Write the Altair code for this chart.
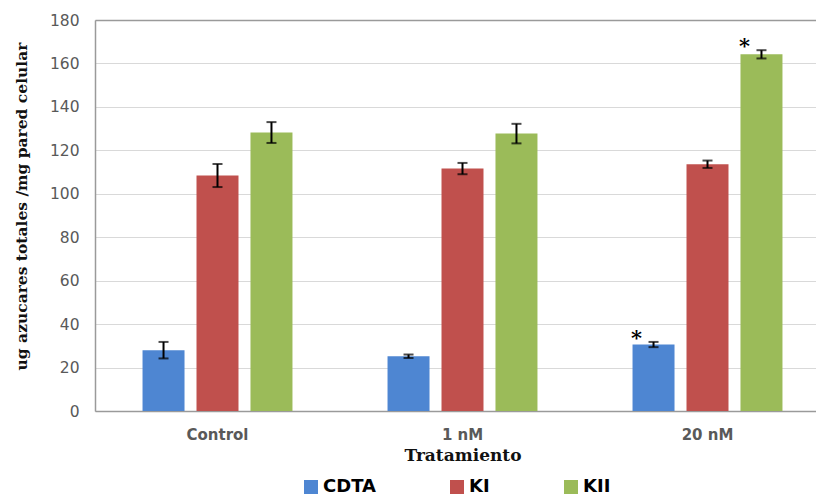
import altair as alt
import pandas as pd

# Treatments (x categories) and series
treatments = ["Control", "1 nM", "20 nM"]
series = ["CDTA", "KI", "KII"]

# Mean values per series, in treatment order
cdta_mean = [28.0, 25.2, 30.6]
ki_mean = [108.4, 111.6, 113.6]
kii_mean = [128.2, 127.7, 164.2]

# Error (± half-range) per series
cdta_err = [3.8, 0.8, 1.2]
ki_err = [5.3, 2.6, 1.7]
kii_err = [4.8, 4.5, 1.9]

# Significance markers
cdta_sig = ["", "", "*"]
ki_sig = ["", "", ""]
kii_sig = ["", "", "*"]

colors = ["#4E86D2", "#C0504D", "#9BBB59"]

rows = []
for name, means, errs, sigs in [
    ("CDTA", cdta_mean, cdta_err, cdta_sig),
    ("KI", ki_mean, ki_err, ki_sig),
    ("KII", kii_mean, kii_err, kii_sig),
]:
    for t, m, e, s in zip(treatments, means, errs, sigs):
        rows.append({"Tratamiento": t, "serie": name, "valor": m,
                     "lo": m - e, "hi": m + e, "sig": s})
df = pd.DataFrame(rows)

x_enc = alt.X("Tratamiento:N", sort=treatments,
              scale=alt.Scale(range=[0, 735], paddingInner=0.388, paddingOuter=0.194),
              axis=alt.Axis(title="Tratamiento", labelAngle=0, ticks=False,
                            labelPadding=16, titlePadding=5,
                            labelFont="DejaVu Sans", labelFontSize=15,
                            labelFontWeight="bold", labelColor="#595959",
                            titleFont="DejaVu Serif", titleFontSize=17,
                            titleFontWeight="bold", titleColor="#111111",
                            domainColor="#9a9a9a", domainWidth=1.5))
xoff = alt.XOffset("serie:N", sort=series,
                   scale=alt.Scale(paddingInner=0.222, paddingOuter=0))

base = alt.Chart(df)

bars = base.mark_bar().encode(
    x=x_enc,
    xOffset=xoff,
    y=alt.Y("valor:Q",
            scale=alt.Scale(domain=[0, 180]),
            axis=alt.Axis(values=list(range(0, 181, 20)), ticks=False,
                          title="ug azucares totales /mg pared celular",
                          labelFont="DejaVu Sans", labelFontSize=15.5,
                          labelColor="#595959", labelPadding=16,
                          titleFont="DejaVu Serif", titleFontSize=15.5,
                          titleFontWeight="bold", titleColor="#111111",
                          titleAngle=270, titleX=-74, titleY=186,
                          titleAlign="center", titleBaseline="middle",
                          domainColor="#9a9a9a", domainWidth=1.5,
                          gridColor={"condition": {"test": "datum.value === 180",
                                                   "value": "#9a9a9a"},
                                     "value": "#d9d9d9"},
                          gridWidth={"condition": {"test": "datum.value === 180",
                                                   "value": 1.5},
                                     "value": 1})),
    color=alt.Color("serie:N", sort=series,
                    scale=alt.Scale(domain=series, range=colors),
                    legend=alt.Legend(title=None, orient="none", direction="horizontal",
                                      legendX=207, legendY=458,
                                      symbolType="square", symbolSize=196,
                                      symbolStrokeWidth=0, symbolOpacity=1,
                                      labelFont="DejaVu Sans", labelFontSize=18,
                                      labelFontWeight="bold", labelColor="#000000",
                                      labelOffset=3, columnPadding=72)),
)

err_line = base.mark_rule(color="black", strokeWidth=2).encode(
    x=alt.X("Tratamiento:N", sort=treatments),
    xOffset=xoff,
    y="lo:Q",
    y2="hi:Q",
)

cap_hi = base.mark_tick(color="black", size=10, thickness=2).encode(
    x=alt.X("Tratamiento:N", sort=treatments),
    xOffset=xoff,
    y="hi:Q",
)
cap_lo = base.mark_tick(color="black", size=10, thickness=2).encode(
    x=alt.X("Tratamiento:N", sort=treatments),
    xOffset=xoff,
    y="lo:Q",
)

stars = base.mark_text(font="DejaVu Serif", fontSize=21, fontWeight="bold",
                       color="black", dx=-17, dy=3, baseline="alphabetic").encode(
    x=alt.X("Tratamiento:N", sort=treatments),
    xOffset=xoff,
    y="hi:Q",
    text="sig:N",
)

chart = alt.layer(bars, err_line, cap_hi, cap_lo, stars).properties(
    width=721, height=391,
    autosize=alt.AutoSizeParams(type="none"),
    padding={"left": 95, "top": 20, "right": 0, "bottom": 87},
).configure_view(stroke=None).configure(background="white")

chart.save("out.html", embed_options={"renderer": "svg", "actions": False})
